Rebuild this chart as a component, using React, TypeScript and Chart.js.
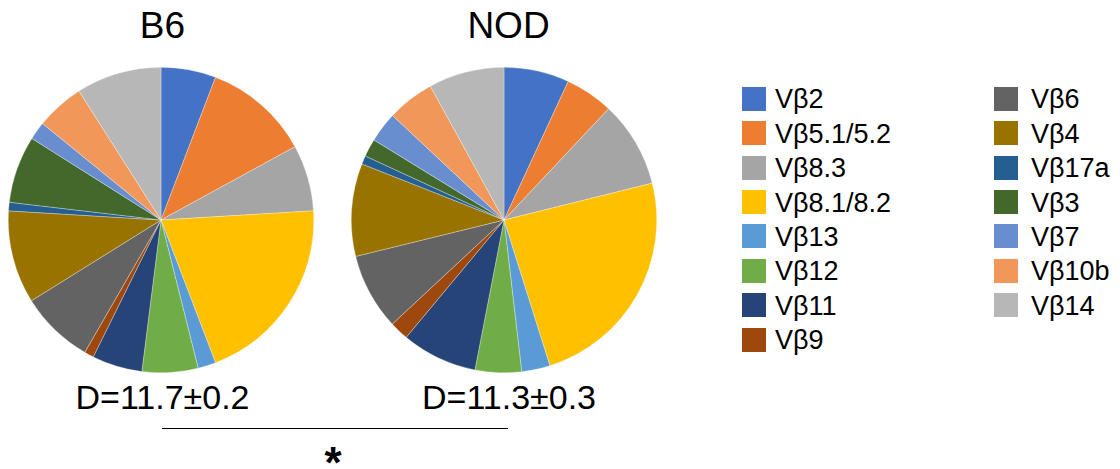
import React, { useEffect, useRef } from "react";
import { Chart, registerables } from "chart.js";

Chart.register(...registerables);

const labels = [
  "Vβ2", "Vβ5.1/5.2", "Vβ8.3", "Vβ8.1/8.2", "Vβ13", "Vβ12", "Vβ11", "Vβ9",
  "Vβ6", "Vβ4", "Vβ17a", "Vβ3", "Vβ7", "Vβ10b", "Vβ14",
];
const colors = [
  "#4472C4", "#ED7D31", "#A5A5A5", "#FFC000", "#5B9BD5", "#70AD47", "#264478", "#9E480E",
  "#636363", "#997300", "#255E91", "#43682B", "#698ED0", "#F1975A", "#B7B7B7",
];
const b6Values = [5.8, 11.2, 7.0, 20.1, 1.9, 5.9, 5.3, 1.0, 7.8, 9.8, 0.9, 7.1, 1.9, 5.1, 9.0];
const nodValues = [6.9, 5.1, 9.1, 24.0, 3.0, 4.9, 8.0, 2.0, 8.1, 9.8, 0.9, 1.9, 3.2, 5.0, 8.0];
const titles = ["B6", "NOD"];
const diversity = ["D=11.7±0.2", "D=11.3±0.3"];
const significance = "*";

const FONT = '"Liberation Sans", Arial, Helvetica, sans-serif';

function Pie({ values, left, top }: { values: number[]; left: number; top: number }) {
  const ref = useRef<HTMLCanvasElement | null>(null);
  useEffect(() => {
    if (!ref.current) return;
    const chart = new Chart(ref.current, {
      type: "pie",
      data: {
        labels,
        datasets: [
          {
            data: values,
            backgroundColor: colors,
            borderColor: "rgba(255,255,255,0.6)",
            borderWidth: 0.5,
            hoverBorderWidth: 0.5,
            hoverOffset: 0,
            offset: 0,
          },
        ],
      },
      options: {
        animation: false,
        responsive: false,
        maintainAspectRatio: false,
        devicePixelRatio: 1,
        layout: { padding: 0 },
        events: [],
        plugins: {
          legend: { display: false },
          tooltip: { enabled: false },
          title: { display: false },
        },
      },
    });
    return () => chart.destroy();
  }, [values]);
  return (
    <canvas
      ref={ref}
      width={306}
      height={306}
      style={{ position: "absolute", left, top, width: 306, height: 306 }}
    />
  );
}

function CenteredText({
  text, cx, top, size, weight,
}: { text: string; cx: number; top: number; size: number; weight?: string }) {
  return (
    <div
      style={{
        position: "absolute",
        left: cx - 150,
        width: 300,
        top,
        textAlign: "center",
        fontFamily: FONT,
        fontSize: size,
        fontWeight: weight || "normal",
        lineHeight: 1,
        color: "#000",
        whiteSpace: "nowrap",
      }}
    >
      {text}
    </div>
  );
}

export default function App() {
  const col1 = labels.slice(0, 8);
  const col2 = labels.slice(8);
  const rowTop = (i: number) => 86.8 + i * 34.4;
  const legendText = {
    position: "absolute" as const,
    fontFamily: FONT,
    fontSize: 27,
    lineHeight: 1,
    whiteSpace: "nowrap" as const,
    color: "#000",
  };
  return (
    <div
      style={{
        position: "fixed",
        left: 0,
        top: 0,
        width: 1120,
        height: 469,
        background: "#fff",
        overflow: "hidden",
      }}
    >
      <CenteredText text={titles[0]} cx={162.5} top={6.5} size={37} />
      <CenteredText text={titles[1]} cx={508.5} top={6.5} size={37} />
      <Pie values={b6Values} left={8} top={67} />
      <Pie values={nodValues} left={351} top={67} />
      <CenteredText text={diversity[0]} cx={162.5} top={379.5} size={34} />
      <CenteredText text={diversity[1]} cx={509} top={379.5} size={34} />
      <div
        style={{
          position: "absolute",
          left: 162,
          top: 428,
          width: 346,
          height: 1.4,
          background: "#000",
        }}
      />
      <CenteredText text={significance} cx={333} top={441} size={44} weight="bold" />
      {col1.map((l, i) => (
        <React.Fragment key={l}>
          <div
            style={{
              position: "absolute",
              left: 742,
              top: rowTop(i),
              width: 24,
              height: 24,
              background: colors[i],
            }}
          />
          <div style={{ ...legendText, left: 775, top: rowTop(i) - 0.5 }}>{l}</div>
        </React.Fragment>
      ))}
      {col2.map((l, i) => (
        <React.Fragment key={l}>
          <div
            style={{
              position: "absolute",
              left: 994,
              top: rowTop(i),
              width: 24,
              height: 24,
              background: colors[i + 8],
            }}
          />
          <div style={{ ...legendText, left: 1031, top: rowTop(i) - 0.5 }}>{l}</div>
        </React.Fragment>
      ))}
    </div>
  );
}
